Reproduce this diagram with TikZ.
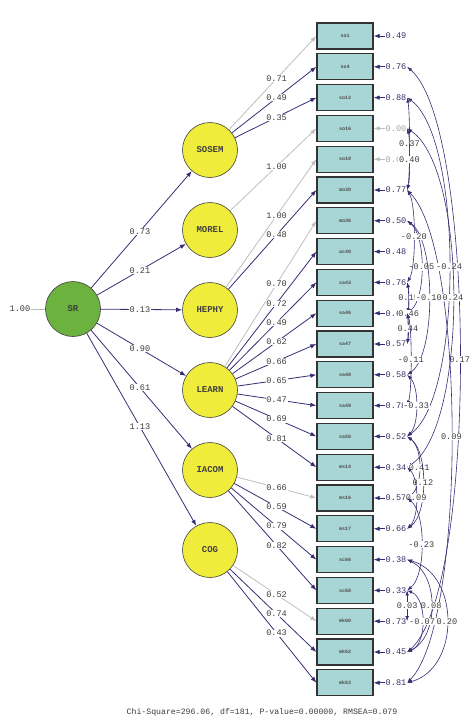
\documentclass[tikz,border=0pt]{standalone}
\usepackage{fontspec}
\newfontfamily\lmono{Liberation Mono}
\usetikzlibrary{arrows.meta,calc,shapes.geometric}
\definecolor{lin}{RGB}{55,45,115}
\definecolor{gline}{RGB}{190,190,190}
\definecolor{latfill}{RGB}{240,236,60}
\definecolor{srfill}{RGB}{108,178,62}
\definecolor{boxfill}{RGB}{168,214,214}
\definecolor{txt}{RGB}{60,60,60}
\tikzset{
  lat/.style={circle, minimum size=55pt, inner sep=0pt, draw=black!75, line width=0.6pt, fill=latfill, font=\lmono\fontsize{9}{9}\selectfont\bfseries, text=black!75},
  obs/.style={rectangle, minimum width=56pt, minimum height=26pt, inner sep=0pt, draw=black!80, line width=1.3pt, fill=boxfill, font=\lmono\fontsize{5}{5}\selectfont\bfseries, text=black!70},
  load/.style={draw=lin, line width=0.8pt, -{Latex[length=6pt,width=4.5pt]}},
  loadg/.style={draw=gline, line width=0.8pt, -{Latex[length=6pt,width=4.5pt]}},
  lbl/.style={fill=white, inner sep=0.6pt, font=\lmono\fontsize{8.6}{9}\selectfont, text=txt},
  errl/.style={inner sep=0.6pt, font=\lmono\fontsize{8.6}{9}\selectfont, text=txt},
  cov/.style={draw=lin, line width=0.6pt, {Latex[length=5pt,width=3.5pt]}-{Latex[length=5pt,width=3.5pt]}},
  covlbl/.style={fill=white, inner sep=0.6pt, font=\lmono\fontsize{8.6}{9}\selectfont, text=txt}
}
\newcommand\covarc[5]{\draw[cov] (e#1.east) .. controls +(#3,#4) and +(#3,-#4) .. node[covlbl,pos=0.5]{#5} (e#2.east);}
\begin{document}
\begin{tikzpicture}[x=1pt,y=-1pt]
\useasboundingbox (0,0) rectangle (473,720);
% observed variables
\foreach \i/\nm in {1/so1,2/so4,3/so12,4/so16,5/so18,6/mo30,7/mo36,8/ac40,9/sa43,10/sa46,11/sa47,12/sa48,13/sa49,14/sa50,15/ms14,16/ms16,17/ms17,18/sc66,19/sc68,20/mk60,21/mk62,22/mk63}{
  \pgfmathsetmacro\yy{36+30.8*(\i-1)}
  \node[obs] (b\i) at (345,\yy) {\nm};
}
% error terms
\foreach \i/\v/\c in {1/0.49/lin,2/0.76/lin,3/0.88/lin,4/0.00/gline,5/0.00/gline,6/0.77/lin,7/0.50/lin,8/0.48/lin,9/0.76/lin,10/0.62/lin,11/0.57/lin,12/0.58/lin,13/0.78/lin,14/0.52/lin,15/0.34/lin,16/0.57/lin,17/0.66/lin,18/0.38/lin,19/0.33/lin,20/0.73/lin,21/0.45/lin,22/0.81/lin}{
  \pgfmathsetmacro\yy{36+30.8*(\i-1)}
  \node[errl, text=\c!80!txt] (e\i) at (396,\yy) {\v};
  \draw[draw=\c, line width=0.8pt, -{Latex[length=6pt,width=4.5pt]}] (e\i.west) -- (b\i.east);
}
% latent variables
\node[lat] (SOSEM) at (210,150) {SOSEM};
\node[lat] (MOREL) at (210,230) {MOREL};
\node[lat] (HEPHY) at (210,310) {HEPHY};
\node[lat] (LEARN) at (210,390) {LEARN};
\node[lat] (IACOM) at (210,470) {IACOM};
\node[lat] (COG) at (210,550) {COG};
\node[lat, fill=srfill] (SR) at (73,309) {SR};
\node[lbl] (srv) at (20,309) {1.00};
\draw[draw=gline, line width=0.8pt] (srv) -- (SR);
% structural paths
\foreach \t/\v in {SOSEM/0.73,MOREL/0.21,HEPHY/0.13,LEARN/0.90,IACOM/0.61,COG/1.13}{
  \draw[load] (SR) -- (\t);
  \node[lbl] at ($(SR.center)!0.489!(\t.center)$) {\v};
}
% loadings
\foreach \l/\i/\s in {SOSEM/1/loadg,SOSEM/2/load,SOSEM/3/load,MOREL/4/loadg,HEPHY/5/loadg,HEPHY/6/load,LEARN/7/loadg,LEARN/8/load,LEARN/9/load,LEARN/10/load,LEARN/11/load,LEARN/12/load,LEARN/13/load,LEARN/14/load,LEARN/15/load,IACOM/16/loadg,IACOM/17/load,IACOM/18/load,IACOM/19/load,COG/20/loadg,COG/21/load,COG/22/load}{
  \draw[\s] (\l) -- (b\i.west);
}
\foreach \l/\i/\v in {SOSEM/1/0.71,SOSEM/2/0.49,SOSEM/3/0.35,MOREL/4/1.00,HEPHY/5/1.00,HEPHY/6/0.48,LEARN/7/0.70,LEARN/8/0.72,LEARN/9/0.49,LEARN/10/0.62,LEARN/11/0.66,LEARN/12/0.65,LEARN/13/0.47,LEARN/14/0.69,LEARN/15/0.81,IACOM/16/0.66,IACOM/17/0.59,IACOM/18/0.79,IACOM/19/0.82,COG/20/0.52,COG/21/0.74,COG/22/0.43}{
  \node[lbl] at ($(\l.center)!0.626!(b\i.west)$) {\v};
}
% error covariances
\covarc{2}{21}{70}{60}{0.17}
\covarc{6}{22}{59}{60}{0.09}
\covarc{3}{14}{56}{40}{-0.24}
\covarc{4}{15}{61}{40}{0.24}
\covarc{7}{10}{19}{15}{-0.05}
\covarc{9}{10}{2}{8}{0.15}
\covarc{7}{12}{29}{20}{-0.10}
\covarc{6}{9}{9}{15}{-0.20}
\covarc{9}{11}{2}{10}{0.46}
\covarc{10}{11}{1}{6}{0.44}
\covarc{3}{6}{3}{15}{0.37}
\covarc{4}{6}{3}{10}{0.40}
\covarc{10}{13}{5}{15}{-0.11}
\covarc{12}{14}{12}{12}{-0.33}
\covarc{14}{16}{16}{12}{0.41}
\covarc{14}{17}{21}{15}{0.12}
\covarc{15}{17}{12}{12}{0.09}
\covarc{16}{19}{19}{15}{-0.23}
\covarc{19}{20}{0}{6}{0.03}
\covarc{18}{21}{32}{15}{0.08}
\covarc{19}{21}{20}{8}{-0.07}
\covarc{18}{22}{53}{15}{0.20}
% fit statistics
\node[errl, font=\lmono\fontsize{8.2}{9}\selectfont] (fit) at (262,712) {Chi-Square=296.06, df=181, P-value=0.00000, RMSEA=0.079};
\end{tikzpicture}
\end{document}
